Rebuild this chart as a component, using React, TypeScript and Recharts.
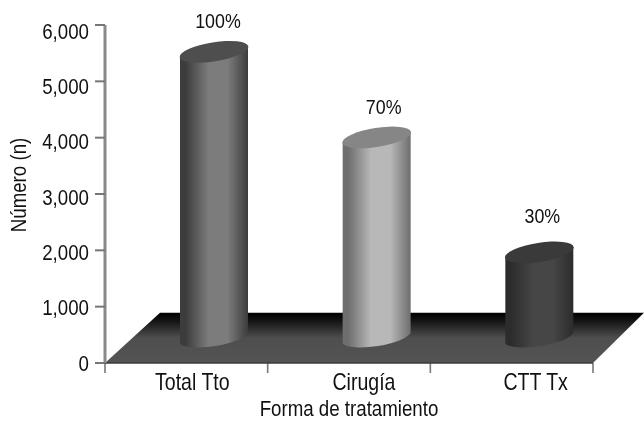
import React from "react";
import { BarChart, Bar, XAxis, YAxis, ReferenceArea, LabelList } from "recharts";

const categories = ["Total Tto", "Cirugía", "CTT Tx"];
const counts = [5080, 3560, 1520];
const percents = ["100%", "70%", "30%"];
const yTicks = [0, 1000, 2000, 3000, 4000, 5000, 6000];
const yTitle = "Número (n)";
const xTitle = "Forma de tratamiento";
const floorDepthValue = 890;

const data = categories.map((name, i) => ({ name, count: counts[i], pct: percents[i] }));

const FONT = "'Liberation Sans', Arial, sans-serif";
const DEPTH_X = 28;
const DEPTH_Y = 25;
const labelShiftX = [4, 7, 3];
const labelLift = [24, 23, 29];

const palettes = [
  { edge: "#3c3c3c", mid: "#7c7c7c", top: "#4e4e4e" },
  { edge: "#6e6e6e", mid: "#b8b8b8", top: "#868686" },
  { edge: "#2c2c2c", mid: "#464646", top: "#3a3a3a" },
];

function Narrow({ x, y, anchor = "middle", rotate = 0, size = 22, children }: any) {
  return (
    <text
      transform={`translate(${x} ${y}) rotate(${rotate}) scale(0.85 1)`}
      textAnchor={anchor}
      fontFamily={FONT}
      fontSize={size}
      fill="#111"
    >
      {children}
    </text>
  );
}

function Cylinder(props: any) {
  const { x, y, width, height, index } = props;
  const p = palettes[index];
  const cx = x + width / 2 + DEPTH_X;
  const topY = y - DEPTH_Y;
  const botY = y + height - DEPTH_Y;
  const hw = width / 2;
  const tilt = 5.4;
  const rx = hw + 0.8;
  const ry = 9.5;
  const id = `cyl${index}`;
  return (
    <g>
      <defs>
        <linearGradient id={id} x1="0" x2="1" y1="0" y2="0">
          <stop offset="0" stopColor={p.edge} />
          <stop offset="0.08" stopColor={p.edge} />
          <stop offset="0.42" stopColor={p.mid} />
          <stop offset="0.7" stopColor={p.mid} />
          <stop offset="1" stopColor={p.edge} />
        </linearGradient>
      </defs>
      <path
        d={`M${cx - hw},${topY + tilt} L${cx - hw},${botY + tilt} A${rx},${ry} -9 0 0 ${cx + hw},${botY - tilt} L${cx + hw},${topY - tilt} Z`}
        fill={`url(#${id})`}
      />
      <ellipse cx={cx} cy={topY} rx={rx} ry={ry} transform={`rotate(-9 ${cx} ${topY})`} fill={p.top} />
    </g>
  );
}

function Floor(props: any) {
  const { x, y, width, height } = props;
  const bottom = y + height;
  const step = width / categories.length;
  return (
    <g>
      <defs>
        <linearGradient id="floorGrad" x1="0" x2="0" y1="0" y2="1">
          <stop offset="0" stopColor="#000" />
          <stop offset="0.14" stopColor="#111" />
          <stop offset="0.5" stopColor="#4e4e4e" />
          <stop offset="1" stopColor="#545454" />
        </linearGradient>
      </defs>
      <polygon
        points={`${x},${bottom} ${x + 55},${y} ${x + width + 51},${y} ${x + width},${bottom}`}
        fill="url(#floorGrad)"
      />
      {categories.concat("").map((_, i) => (
        <line key={i} x1={x + i * step} x2={x + i * step} y1={bottom} y2={bottom + 10} stroke="#777" strokeWidth={1.6} />
      ))}
    </g>
  );
}

function YTick(props: any) {
  const { x, y, payload } = props;
  return (
    <Narrow x={x} y={y + 7.5 + (payload.value / 1000) * 1.05} anchor="end">
      {payload.value.toLocaleString("en-US")}
    </Narrow>
  );
}

function XTick(props: any) {
  const { x, y, payload, index } = props;
  return (
    <Narrow x={x + 6 + index * 9} y={y + 19} size={23}>
      {payload.value}
    </Narrow>
  );
}

function PctLabel(props: any) {
  const { x, y, width, value, index } = props;
  return (
    <Narrow x={x + width / 2 + DEPTH_X + labelShiftX[index]} y={y - DEPTH_Y - labelLift[index]} size={21}>
      {value}
    </Narrow>
  );
}

export default function App() {
  return (
    <div style={{ position: "absolute", left: 0, top: 0, width: 644, height: 421, background: "#fff", filter: "blur(0.45px)" }}>
      <BarChart
        width={644}
        height={421}
        data={data}
        margin={{ top: 25, right: 51, bottom: 0, left: 0 }}
        barSize={68}
      >
        <ReferenceArea y1={0} y2={floorDepthValue} shape={<Floor />} ifOverflow="visible" />
        <XAxis
          dataKey="name"
          height={58}
          tickLine={false}
          axisLine={{ stroke: "#3a3a3a", strokeWidth: 1.5 }}
          tick={<XTick />}
          interval={0}
          label={{
            content: () => (
              <Narrow x={349} y={416}>
                {xTitle}
              </Narrow>
            ),
          }}
        />
        <YAxis
          width={105}
          domain={[0, 6000]}
          ticks={yTicks}
          tickSize={10}
          tickMargin={6}
          tickLine={{ stroke: "#777", strokeWidth: 2 }}
          axisLine={{ stroke: "#8a8a8a", strokeWidth: 3 }}
          tick={<YTick />}
          interval={0}
          label={{
            content: () => (
              <Narrow x={26} y={185} rotate={-90}>
                {yTitle}
              </Narrow>
            ),
          }}
        />
        <Bar dataKey="count" shape={<Cylinder />} isAnimationActive={false}>
          <LabelList dataKey="pct" content={<PctLabel />} />
        </Bar>
      </BarChart>
    </div>
  );
}
